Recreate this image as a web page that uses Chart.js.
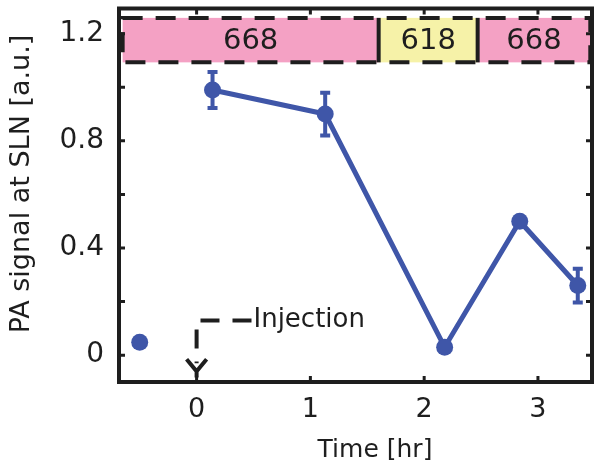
<!DOCTYPE html>
<html>
<head>
<meta charset="utf-8">
<script src="https://cdn.jsdelivr.net/npm/chart.js@4/dist/chart.umd.min.js"></script>
<style>
  html, body { margin: 0; padding: 0; background: #fff; }
  #wrap { width: 601px; height: 468px; }
</style>
</head>
<body>
<div id="wrap"><canvas id="chart" width="601" height="468"></canvas></div>
<script>
// values
const timeHr = [0.14, 1.13, 2.18, 2.84, 3.35];
const signal = [0.99, 0.90, 0.03, 0.50, 0.26];
const signalErr = [0.067, 0.08, 0, 0.01, 0.063];
const baselineTime = [-0.50];
const baselineSignal = [0.048];

const xTicks = [0, 1, 2, 3];
const yTicks = [0, 0.2, 0.4, 0.6, 0.8, 1.0, 1.2];
const yLabelTicks = [0, 0.4, 0.8, 1.2];

// laser wavelength bands (time edges, nm labels)
const bandEdges = [-0.65, 1.60, 2.47, 3.46];
const bandLabels = ['668', '618', '668'];
const bandSignal = [1.093, 1.259];
const injectionTime = 0;

const blue = '#3f56a8';
const ink = '#1e1e1e';
const font = 'DejaVu Sans';

const frame = {
  id: 'frame',
  beforeDatasetsDraw(chart) {
    const { ctx, scales: { x, y } } = chart;
    // band across the top
    const colors = ['#f4a1c4', '#f6f2a8', '#f4a1c4'];
    const yt = y.getPixelForValue(bandSignal[1]);
    const yb = y.getPixelForValue(bandSignal[0]);
    ctx.save();
    for (let i = 0; i < bandLabels.length; i++) {
      const x0 = x.getPixelForValue(bandEdges[i]);
      const x1 = x.getPixelForValue(bandEdges[i + 1]);
      ctx.fillStyle = colors[i];
      ctx.fillRect(x0, yt, x1 - x0, yb - yt);
      ctx.fillStyle = ink;
      ctx.font = '29px "' + font + '"';
      ctx.textAlign = 'center';
      ctx.textBaseline = 'middle';
      ctx.fillText(bandLabels[i], (x0 + x1) / 2, (yt + yb) / 2 + 1);
    }
    ctx.strokeStyle = ink;
    ctx.lineWidth = 4;
    for (let i = 1; i < bandEdges.length - 1; i++) {
      const xp = x.getPixelForValue(bandEdges[i]);
      ctx.beginPath();
      ctx.moveTo(xp, yt);
      ctx.lineTo(xp, yb);
      ctx.stroke();
    }
    ctx.setLineDash([20, 13]);
    const xl = x.getPixelForValue(bandEdges[0]);
    const xr = x.getPixelForValue(bandEdges[bandEdges.length - 1]);
    ctx.strokeRect(xl, yt, xr - xl, yb - yt);
    ctx.setLineDash([]);

    // error bars
    ctx.strokeStyle = blue;
    ctx.lineWidth = 4;
    for (let i = 0; i < timeHr.length; i++) {
      if (!signalErr[i]) continue;
      const xp = x.getPixelForValue(timeHr[i]);
      const y0 = y.getPixelForValue(signal[i] - signalErr[i]);
      const y1 = y.getPixelForValue(signal[i] + signalErr[i]);
      ctx.beginPath();
      ctx.moveTo(xp, y0); ctx.lineTo(xp, y1);
      ctx.moveTo(xp - 5, y0); ctx.lineTo(xp + 5, y0);
      ctx.moveTo(xp - 5, y1); ctx.lineTo(xp + 5, y1);
      ctx.stroke();
    }
    ctx.restore();
  },
  afterDatasetsDraw(chart) {
    const { ctx, chartArea: a, scales: { x, y } } = chart;
    ctx.save();
    ctx.strokeStyle = ink;
    ctx.lineWidth = 3;
    ctx.beginPath();
    yTicks.forEach(v => {
      const yp = y.getPixelForValue(v);
      ctx.moveTo(a.left, yp); ctx.lineTo(a.left + 6, yp);
      ctx.moveTo(a.right, yp); ctx.lineTo(a.right - 6, yp);
    });
    xTicks.forEach(v => {
      const xp = x.getPixelForValue(v);
      ctx.moveTo(xp, a.bottom); ctx.lineTo(xp, a.bottom - 6);
      ctx.moveTo(xp, a.top); ctx.lineTo(xp, a.top + 6);
    });
    ctx.stroke();
    ctx.lineWidth = 4;
    ctx.strokeRect(a.left, a.top, a.right - a.left, a.bottom - a.top);

    // injection marker
    const xa = x.getPixelForValue(injectionTime);
    const yk = y.getPixelForValue(0.13);
    const ytip = y.getPixelForValue(-0.06);
    const yend = y.getPixelForValue(-0.083);
    const xtx = x.getPixelForValue(0.5);
    ctx.lineWidth = 4;
    ctx.setLineDash([19, 13]);
    ctx.beginPath();
    ctx.moveTo(xtx - 2, yk);
    ctx.lineTo(xa, yk);
    ctx.lineTo(xa, ytip - 8);
    ctx.stroke();
    ctx.setLineDash([]);
    ctx.beginPath();
    ctx.moveTo(xa - 10, ytip - 12);
    ctx.lineTo(xa, ytip);
    ctx.lineTo(xa + 10, ytip - 12);
    ctx.moveTo(xa, ytip);
    ctx.lineTo(xa, yend);
    ctx.stroke();
    ctx.fillStyle = ink;
    ctx.font = '26px "' + font + '"';
    ctx.textAlign = 'left';
    ctx.textBaseline = 'middle';
    ctx.fillText('Injection', xtx, yk);

    // axis titles
    ctx.font = '25px "' + font + '"';
    ctx.textAlign = 'center';
    ctx.fillText('Time [hr]', 375, 450);
    ctx.font = '27px "' + font + '"';
    ctx.translate(22, 184);
    ctx.rotate(-Math.PI / 2);
    ctx.fillText('PA signal at SLN [a.u.]', 0, 0);
    ctx.restore();
  }
};

new Chart(document.getElementById('chart'), {
  type: 'scatter',
  data: {
    datasets: [
      {
        data: timeHr.map((t, i) => ({ x: t, y: signal[i] })),
        showLine: true,
        borderColor: blue,
        borderWidth: 5,
        backgroundColor: blue,
        pointRadius: 8.5,
        pointBorderWidth: 0,
      },
      {
        data: baselineTime.map((t, i) => ({ x: t, y: baselineSignal[i] })),
        backgroundColor: blue,
        pointRadius: 8.5,
        pointBorderWidth: 0,
      },
    ],
  },
  options: {
    responsive: false,
    animation: false,
    devicePixelRatio: 1,
    layout: { padding: { top: 5, right: 9, left: 0, bottom: 0 } },
    plugins: { legend: { display: false }, tooltip: { enabled: false } },
    events: [],
    scales: {
      x: {
        type: 'linear',
        min: -0.682,
        max: 3.475,
        afterBuildTicks: s => { s.ticks = xTicks.map(v => ({ value: v })); },
        afterFit: s => { s.height = 86; s.paddingLeft = 0; s.paddingRight = 0; },
        grid: { display: false, drawTicks: false },
        border: { display: false },
        ticks: {
          padding: 12,
          color: ink,
          font: { family: font, size: 27 },
          callback: v => String(v),
        },
      },
      y: {
        min: -0.1,
        max: 1.294,
        afterBuildTicks: s => { s.ticks = yTicks.map(v => ({ value: v })); },
        afterFit: s => { s.width = 119; s.paddingTop = 0; s.paddingBottom = 0; },
        grid: { display: false, drawTicks: false },
        border: { display: false },
        ticks: {
          padding: 15,
          color: ink,
          font: { family: font, size: 28 },
          callback: v => {
            const hit = yLabelTicks.some(t => Math.abs(t - v) < 1e-6);
            if (!hit) return '';
            return v === 0 ? '0' : v.toFixed(1);
          },
        },
      },
    },
  },
  plugins: [frame],
});
</script>
</body>
</html>
